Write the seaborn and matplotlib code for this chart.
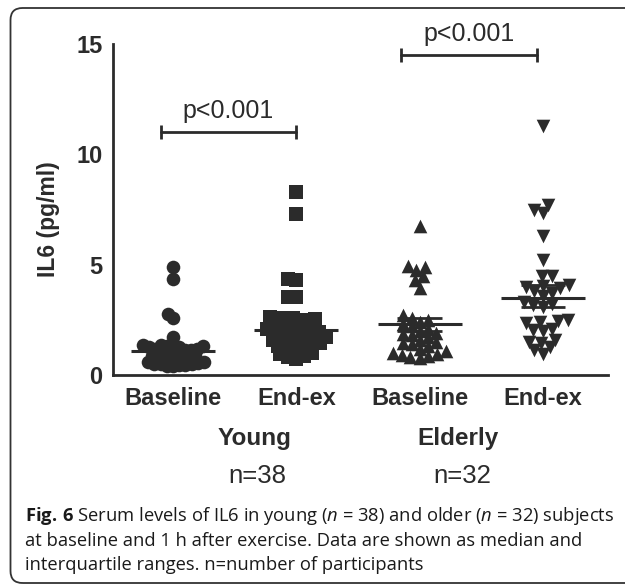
import numpy as np
import pandas as pd
import matplotlib
matplotlib.use("Agg")
import matplotlib.pyplot as plt
import seaborn as sns
from matplotlib.patches import FancyBboxPatch
from matplotlib.transforms import IdentityTransform

# ---------------- data ----------------
conditions = ["Young Baseline", "Young End-ex", "Elderly Baseline", "Elderly End-ex"]
tick_labels = ["Baseline", "End-ex", "Baseline", "End-ex"]
group_labels = ["Young", "Elderly"]
group_n = ["n=38", "n=32"]

young_baseline = [4.9, 4.35, 2.75, 2.6, 1.7,
                  0.40, 0.42, 0.45, 0.45, 0.48, 0.50, 0.52, 0.55, 0.58, 0.60,
                  0.65, 0.70, 0.72, 0.75, 0.78, 0.80, 0.85, 0.90, 0.95, 1.00,
                  1.05, 1.10, 1.12, 1.15, 1.18, 1.20, 1.22, 1.25, 1.28, 1.30,
                  1.32, 1.35, 1.38]
young_endex = [8.3, 7.3, 4.35, 4.3, 3.55, 3.55,
               2.65, 2.6, 2.6, 2.55, 2.5, 2.35, 2.3, 2.2, 2.15, 2.1, 2.05, 2.0,
               1.95, 1.9, 1.85, 1.8, 1.7, 1.65, 1.6, 1.55, 1.5, 1.45, 1.4,
               1.3, 1.25, 1.2, 1.1, 1.0, 0.95, 0.85, 0.8, 0.72]
elderly_baseline = [6.75, 4.95, 4.9, 4.77, 4.5, 4.3, 3.95,
                    2.7, 2.6, 2.5, 2.4, 2.3, 2.2, 2.1, 2.0, 1.9, 1.85, 1.8,
                    1.7, 1.6, 1.5, 1.45, 1.4, 1.3, 1.2, 1.1, 1.0, 0.95, 0.9,
                    0.85, 0.8, 0.75]
elderly_endex = [11.3, 7.7, 7.5, 7.35, 6.3, 5.2, 4.47, 4.47,
                 4.1, 4.05, 4.0, 3.95, 3.8, 3.7, 3.6, 3.3, 3.2, 3.15, 3.1,
                 2.5, 2.45, 2.4, 2.35, 2.1, 2.05, 2.0, 1.6, 1.5, 1.45, 1.25,
                 1.15, 0.95]
series = [young_baseline, young_endex, elderly_baseline, elderly_endex]
markers = ["o", "s", "^", "v"]

medians = [1.09, 2.05, 2.3, 3.5]
q_low = [0.8, 1.5, 2.0, 3.1]
q_high = [1.3, 2.6, 2.6, 4.1]

bracket_left = [-0.1, 1.85]
bracket_right = [1.0, 2.95]
bracket_y = [11.0, 14.5]
bracket_text = ["p<0.001", "p<0.001"]

caption_lines = [
    r"$\mathbf{Fig.\,6}$ Serum levels of IL6 in young ($\mathit{n}$ = 38) and older ($\mathit{n}$ = 32) subjects",
    "at baseline and 1 h after exercise. Data are shown as median and",
    "interquartile ranges. n=number of participants",
]

# ---------------- style ----------------
sns.set_theme(style="white")
plt.rcParams["font.family"] = ["Liberation Sans", "DejaVu Sans"]
plt.rcParams["mathtext.fontset"] = "custom"
plt.rcParams["mathtext.rm"] = "Open Sans"
plt.rcParams["mathtext.it"] = "Open Sans:italic"
plt.rcParams["mathtext.bf"] = "Open Sans:bold"

ink = "#2b2b2b"
W, H = 625, 588
fig = plt.figure(figsize=(W / 100, H / 100), dpi=100)
fig.patch.set_facecolor("white")

ax_left, ax_right, ax_bottom, ax_top = 113, 608, 375, 44
ax = fig.add_axes([ax_left / W, 1 - ax_bottom / H,
                   (ax_right - ax_left) / W, (ax_bottom - ax_top) / H])

layout_sizes = [4.3, 5.8, 6.3, 6.7]
for cond, vals, m, ls in zip(conditions, series, markers, layout_sizes):
    df = pd.DataFrame({"cond": [cond] * len(vals), "val": vals})
    sns.swarmplot(data=df, x="cond", y="val", order=conditions, marker=m,
                  size=ls, color=ink, linewidth=0, ax=ax, zorder=3)

px_per_unit = 123.3
ax.set_xlim((ax_left - 173) / px_per_unit, (ax_right - 173) / px_per_unit)
ax.set_ylim(0, 15)

# compute swarm layout with the smaller size, then freeze and enlarge markers
fig.canvas.draw()
marker_pt = 9.8
for coll in list(ax.collections):
    offs = np.array(coll.get_offsets())
    if "draw" in coll.__dict__:
        del coll.draw
    coll.set_offsets(offs)
    coll.set_sizes([marker_pt ** 2])

# median + interquartile
pos = np.arange(len(conditions))
ax.hlines(medians, pos - 0.34, pos + 0.34, color=ink, lw=2.2, zorder=5)
ax.hlines(q_low, pos - 0.18, pos + 0.18, color=ink, lw=2.0, zorder=5)
ax.hlines(q_high, pos - 0.18, pos + 0.18, color=ink, lw=2.0, zorder=5)
ax.vlines(pos, q_low, q_high, color=ink, lw=2.0, zorder=5)

# significance brackets
for xl, xr, yb, t in zip(bracket_left, bracket_right, bracket_y, bracket_text):
    ax.plot([xl, xr], [yb, yb], color=ink, lw=2.0, clip_on=False, zorder=5)
    ax.vlines([xl, xr], yb - 0.32, yb + 0.32, color=ink, lw=2.0,
              clip_on=False, zorder=5)
    ax.text((xl + xr) / 2, yb + 0.42, t, ha="center", va="bottom",
            fontsize=18, color=ink, clip_on=False)

# axes styling
sns.despine(ax=ax)
for s in ["left", "bottom"]:
    ax.spines[s].set_color(ink)
    ax.spines[s].set_linewidth(2.0)
ax.set_yticks([0, 5, 10, 15])
ax.set_yticklabels(["0", "5", "10", "15"])
ax.set_xticks(pos)
ax.set_xticklabels(tick_labels)
ax.tick_params(axis="both", which="both", direction="out", length=5.5,
               width=2.0, color=ink, labelcolor=ink, labelsize=17)
ax.tick_params(axis="x", pad=3)
ax.tick_params(axis="y", pad=2)
for lab in ax.get_xticklabels() + ax.get_yticklabels():
    lab.set_fontweight("bold")
ax.set_xlabel("")
ax.set_ylabel("IL6 (pg/ml)", fontsize=16.5, fontweight="bold", color=ink)
ax.yaxis.label.set_verticalalignment("center")
ax.yaxis.set_label_coords((49 - ax_left) / (ax_right - ax_left), 0.47)
ax.set_facecolor("none")

# group labels and n
for lbl, n, xc, xn in zip(group_labels, group_n, [254, 458], [257, 462]):
    fig.text(xc / W, 1 - 438 / H, lbl, ha="center", va="center",
             fontsize=17.5, fontweight="bold", color=ink)
    fig.text(xn / W, 1 - 476 / H, n, ha="center", va="center",
             fontsize=18.5, color=ink)

# caption
for line, yc in zip(caption_lines, [516, 541, 565]):
    fig.text(25 / W, 1 - yc / H, line, ha="left", va="center",
             fontsize=13.2, family="Open Sans", color="#1a1a1a")

# rounded frame
frame = FancyBboxPatch((10.5, 5), 650, 575,
                       boxstyle="round,pad=0,rounding_size=12",
                       transform=IdentityTransform(), fill=False,
                       lw=1.3, ec="#333333")
fig.patches.append(frame)

fig.savefig("out.png", dpi=100, facecolor="white")
